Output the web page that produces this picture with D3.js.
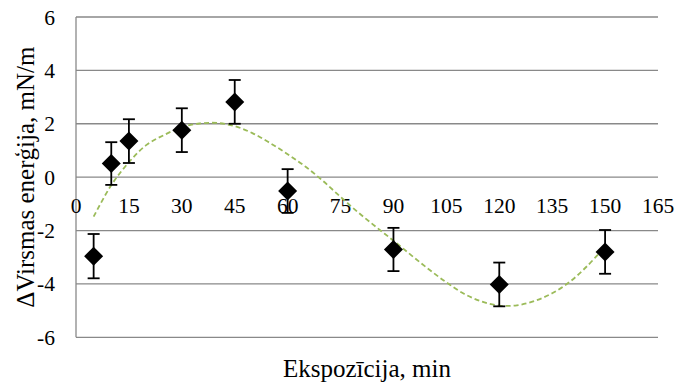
<!DOCTYPE html>
<html>
<head>
<meta charset="utf-8">
<script src="https://cdn.jsdelivr.net/npm/d3@7"></script>
<style>
  html, body { margin: 0; padding: 0; background: #fff; }
  svg { display: block; }
  svg text { font-family: "Liberation Serif", "Times New Roman", Times, Tinos, "Nimbus Roman", "Nimbus Roman No9 L", FreeSerif, "Noto Serif", "DejaVu Serif", Georgia, serif; }
</style>
</head>
<body>
<svg id="chart" width="675" height="385"></svg>
<script>
// Measured surface energy change vs exposure time
const minutes = [5, 10, 15, 30, 45, 60, 90, 120, 150];
const deltaEnergy = [-2.96, 0.51, 1.35, 1.76, 2.82, -0.52, -2.71, -4.02, -2.80];
const errorMargin = [0.83, 0.80, 0.82, 0.82, 0.82, 0.82, 0.81, 0.82, 0.82];

// Trend curve values sampled along the exposure range
const trendMinutes = [5, 10, 15, 20, 25, 30, 35, 40, 45, 50, 55, 60, 65, 70, 75, 80, 85, 90, 95, 100, 105, 110, 115, 120, 125, 130, 135, 140, 145, 150];
const trendValues = [-1.48, -0.30, 0.56, 1.21, 1.58, 1.87, 2.01, 2.03, 1.91, 1.65, 1.28, 0.86, 0.40, -0.14, -0.74, -1.32, -1.86, -2.38, -2.92, -3.45, -3.94, -4.37, -4.66, -4.81, -4.80, -4.64, -4.35, -3.92, -3.32, -2.60];

const xTicks = [0, 15, 30, 45, 60, 75, 90, 105, 120, 135, 150, 165];
const yTicks = [-6, -4, -2, 0, 2, 4, 6];

const xTitle = "Ekspozīcija, min";
const yTitle = "ΔVirsmas enerģija, mN/m";

const svg = d3.select("#chart");
const plotLeft = 76, plotRight = 658, plotTop = 17, plotBottom = 337.3;

const x = d3.scaleLinear().domain([0, 165]).range([plotLeft, plotRight]);
const y = d3.scaleLinear().domain([-6, 6]).range([plotBottom, plotTop]);

const gridColor = "#898989";

// Horizontal gridlines (y = 0 doubles as the category axis)
svg.append("g")
  .selectAll("line")
  .data(yTicks)
  .join("line")
  .attr("x1", plotLeft).attr("x2", plotRight)
  .attr("y1", d => y(d)).attr("y2", d => y(d))
  .attr("stroke", gridColor)
  .attr("stroke-width", 1.3);

// Vertical value axis line
svg.append("line")
  .attr("x1", x(0)).attr("x2", x(0))
  .attr("y1", plotTop).attr("y2", plotBottom)
  .attr("stroke", gridColor)
  .attr("stroke-width", 1.3);

// Y tick labels
svg.append("g")
  .selectAll("text")
  .data(yTicks)
  .join("text")
  .attr("x", 55)
  .attr("y", d => y(d))
  .attr("dy", "0.35em")
  .attr("text-anchor", "end")
  .style("font-size", "21.5px")
  .text(d => d);

// X tick labels, hung beneath the zero line
svg.append("g")
  .selectAll("text")
  .data(xTicks)
  .join("text")
  .attr("x", d => x(d))
  .attr("y", y(0) + 36)
  .attr("text-anchor", "middle")
  .style("font-size", "21.5px")
  .text(d => d);

// Trend curve
const trendLine = d3.line()
  .x((d, i) => x(trendMinutes[i]))
  .y(d => y(d))
  .curve(d3.curveCatmullRom);

svg.append("path")
  .datum(trendValues)
  .attr("d", trendLine)
  .attr("fill", "none")
  .attr("stroke", "#9BBB59")
  .attr("stroke-width", 1.8)
  .attr("stroke-dasharray", "5,3");

// Error bars
const bars = svg.append("g")
  .attr("stroke", "#000")
  .attr("stroke-width", 1.8);

minutes.forEach((m, i) => {
  const cx = x(m);
  const hi = y(deltaEnergy[i] + errorMargin[i]);
  const lo = y(deltaEnergy[i] - errorMargin[i]);
  bars.append("line").attr("x1", cx).attr("x2", cx).attr("y1", hi).attr("y2", lo);
  bars.append("line").attr("x1", cx - 6).attr("x2", cx + 6).attr("y1", hi).attr("y2", hi);
  bars.append("line").attr("x1", cx - 6).attr("x2", cx + 6).attr("y1", lo).attr("y2", lo);
});

// Diamond markers
const r = 9.5;
svg.append("g")
  .selectAll("path")
  .data(minutes)
  .join("path")
  .attr("d", (m, i) => {
    const cx = x(m), cy = y(deltaEnergy[i]);
    return `M${cx},${cy - r}L${cx + r},${cy}L${cx},${cy + r}L${cx - r},${cy}Z`;
  })
  .attr("fill", "#000");

// Axis titles
svg.append("text")
  .attr("x", (plotLeft + plotRight) / 2)
  .attr("y", 377)
  .attr("text-anchor", "middle")
  .style("font-size", "25px")
  .text(xTitle);

svg.append("text")
  .attr("transform", `translate(34,${(plotTop + plotBottom) / 2}) rotate(-90)`)
  .attr("text-anchor", "middle")
  .style("font-size", "25px")
  .text(yTitle);
</script>
</body>
</html>
